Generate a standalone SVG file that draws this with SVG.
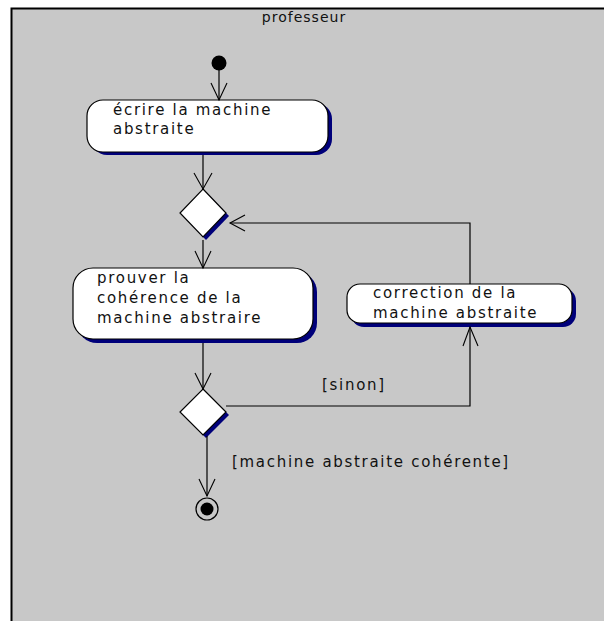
<svg xmlns="http://www.w3.org/2000/svg" width="604" height="621" viewBox="0 0 604 621">
  <defs>
    <style>
      .lbl { font-family: "DejaVu Sans", "Liberation Sans", sans-serif; font-size: 15px; letter-spacing: 1.7px; fill: #111; }
      .title { font-family: "DejaVu Sans", "Liberation Sans", sans-serif; font-size: 14px; letter-spacing: 1px; fill: #111; }
      .act { fill: #fff; stroke: #000; stroke-width: 1.2; }
      .shadow { fill: #00007a; }
      .edge { fill: none; stroke: #000; stroke-width: 1.2; }
      .head { fill: none; stroke: #000; stroke-width: 1.1; }
    </style>
  </defs>

  <!-- swimlane background -->
  <rect x="0" y="0" width="604" height="621" fill="#ffffff"/>
  <rect x="12" y="9" width="592" height="612" fill="#c8c8c8"/>
  <path d="M11.5 621 V8.5 H604" fill="none" stroke="#000" stroke-width="2"/>
  <text class="title" x="304" y="22" text-anchor="middle">professeur</text>

  <!-- nodes -->
  <g id="start">
    <circle cx="219" cy="63" r="7.5" fill="#000"/>
  </g>

  <g id="ecrire">
    <rect class="shadow" x="91" y="103" width="241" height="52" rx="16" ry="16"/>
    <rect class="act" x="87" y="100" width="241" height="52" rx="16" ry="16"/>
    <text class="lbl" x="113" y="115">écrire la machine</text>
    <text class="lbl" x="113" y="134">abstraite</text>
  </g>

  <g id="merge">
    <polygon class="shadow" points="206,192 229,216 206,240 183,216"/>
    <polygon class="act" points="203,189 226,213 203,237 180,213"/>
  </g>

  <g id="prouver">
    <rect class="shadow" x="77" y="272" width="240" height="71" rx="20" ry="20"/>
    <rect class="act" x="73" y="268" width="240" height="71" rx="20" ry="20"/>
    <text class="lbl" x="97" y="283">prouver la</text>
    <text class="lbl" x="97" y="303">cohérence de la</text>
    <text class="lbl" x="97" y="323">machine abstraire</text>
  </g>

  <g id="decision">
    <polygon class="shadow" points="206,392 229,415 206,438 183,415"/>
    <polygon class="act" points="203,389 226,412 203,435 180,412"/>
  </g>

  <g id="correction">
    <rect class="shadow" x="351" y="288" width="225" height="39" rx="13" ry="13"/>
    <rect class="act" x="347" y="284" width="225" height="39" rx="13" ry="13"/>
    <text class="lbl" x="373" y="298">correction de la</text>
    <text class="lbl" x="373" y="318">machine abstraite</text>
  </g>

  <g id="end">
    <circle cx="207" cy="509" r="11" fill="none" stroke="#000" stroke-width="1.2"/>
    <circle cx="207" cy="509" r="6.5" fill="#000"/>
  </g>

  <!-- connectors -->
  <g id="connectors">
    <path class="edge" d="M219 70 V100"/>
    <path class="head" d="M211 83 L219 100 L227 83"/>

    <path class="edge" d="M203 155 V189"/>
    <path class="head" d="M194 173 L203 189 L212 173"/>

    <path class="edge" d="M203 240 V268"/>
    <path class="head" d="M195 251 L203 268 L211 251"/>

    <path class="edge" d="M203 343 V389"/>
    <path class="head" d="M195 373 L203 389 L211 373"/>

    <path class="edge" d="M226 406 H470 V327"/>
    <path class="head" d="M463 346 L470 327 L478 346"/>
    <text class="lbl" x="322" y="390">[sinon]</text>

    <path class="edge" d="M470 284 V223 H230"/>
    <path class="head" d="M245 215 L230 223 L245 231"/>

    <path class="edge" d="M207 436 V496"/>
    <path class="head" d="M199 479 L207 496 L215 479"/>
    <text class="lbl" x="232" y="467">[machine abstraite cohérente]</text>
  </g>
</svg>
